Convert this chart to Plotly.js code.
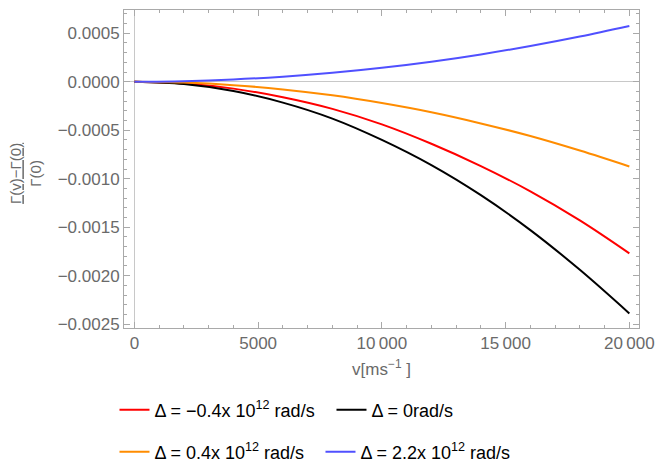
<!DOCTYPE html>
<html>
<head>
<meta charset="utf-8">
<script src="https://cdn.plot.ly/plotly-3.0.1.min.js"></script>
<style>html,body{margin:0;padding:0;background:#fff;}#chart{width:658px;height:465px;}</style>
</head>
<body>
<div id="chart"></div>
<script>
var velocity = [0, 2000, 4000, 6000, 8000, 10000, 12000, 14000, 16000, 18000, 20000];
var deltaNeg04 = [0, -0.000018, -0.000071, -0.00016, -0.00028, -0.00044, -0.00064, -0.00087, -0.00113, -0.00143, -0.00177];
var deltaZero = [0, -0.000024, -0.000096, -0.000215, -0.00038, -0.0006, -0.00086, -0.00117, -0.00153, -0.00194, -0.00239];
var deltaPos04 = [0, -0.000009, -0.000035, -0.000079, -0.00014, -0.00022, -0.000315, -0.00043, -0.00056, -0.00071, -0.000874];
var deltaPos22 = [0, 0.000006, 0.000023, 0.000052, 0.000092, 0.000144, 0.000207, 0.000282, 0.000369, 0.000467, 0.000576];

var xTickVals = [0, 5000, 10000, 15000, 20000];
var xTickText = ['0', '5000', '10\u2009000', '15\u2009000', '20\u2009000'];
var yTickVals = [0.0005, 0, -0.0005, -0.001, -0.0015, -0.002, -0.0025];
var yTickText = ['0.0005', '0.0000', '\u22120.0005', '\u22120.0010', '\u22120.0015', '\u22120.0020', '\u22120.0025'];

var names = [
  '\u0394 = \u22120.4x 10<sup>12</sup> rad/s',
  '\u0394 = 0rad/s',
  '\u0394 = 0.4x 10<sup>12</sup> rad/s',
  '\u0394 = 2.2x 10<sup>12</sup> rad/s'
];

function tr(y, name, color, legend) {
  return {x: velocity, y: y, name: name, type: 'scatter', mode: 'lines',
    line: {color: color, width: 2, shape: 'spline'}, legend: legend};
}
var data = [
  tr(deltaNeg04, names[0], '#ff0000', 'legend'),
  tr(deltaZero, names[1], '#000000', 'legend'),
  tr(deltaPos04, names[2], '#ff8c00', 'legend2'),
  tr(deltaPos22, names[3], '#5050ff', 'legend2')
];

var frame = '#a9a9a9';
var fam = 'Liberation Sans, Arial, sans-serif';
var tickFont = {family: fam, size: 17, color: '#6a6a6a'};
var layout = {
  width: 658, height: 465,
  margin: {l: 124, r: 19, t: 10, b: 137, autoexpand: false},
  paper_bgcolor: '#fff', plot_bgcolor: '#fff',
  showlegend: true,
  xaxis: {
    range: [-420, 20390], showgrid: false, zeroline: true, zerolinecolor: '#c8c8c8', zerolinewidth: 1,
    showline: true, linecolor: frame, linewidth: 1, mirror: 'allticks',
    ticks: 'inside', ticklen: 6, tickcolor: frame, tickvals: xTickVals, ticktext: xTickText,
    minor: {dtick: 1000, ticklen: 3, tickcolor: frame, ticks: 'inside'},
    tickfont: tickFont, automargin: false,
    title: {text: 'v[ms<sup>\u22121</sup> ]', font: {family: fam, size: 17, color: '#6a6a6a'}, standoff: 10}
  },
  yaxis: {
    range: [-0.00254, 0.00074], showgrid: false, zeroline: true, zerolinecolor: '#c8c8c8', zerolinewidth: 1,
    showline: true, linecolor: frame, linewidth: 1, mirror: 'allticks',
    ticks: 'inside', ticklen: 6, tickcolor: frame, tickvals: yTickVals, ticktext: yTickText,
    minor: {dtick: 0.0001, ticklen: 3, tickcolor: frame, ticks: 'inside'},
    tickfont: tickFont, automargin: false
  },
  legend: {
    orientation: 'h', xref: 'container', yref: 'container', x: 0.174, y: 0.118,
    xanchor: 'left', yanchor: 'middle', entrywidth: 172, entrywidthmode: 'pixels',
    font: {family: fam, size: 18, color: '#000'},
    bgcolor: 'rgba(0,0,0,0)', tracegroupgap: 0
  },
  legend2: {
    orientation: 'h', xref: 'container', yref: 'container', x: 0.174, y: 0.028,
    xanchor: 'left', yanchor: 'middle', entrywidth: 161, entrywidthmode: 'pixels',
    font: {family: fam, size: 18, color: '#000'},
    bgcolor: 'rgba(0,0,0,0)', tracegroupgap: 0
  },
  annotations: [{
    text: '<u>\u0393(v)\u2212\u0393(0)</u><br>\u0393(0)',
    xref: 'paper', yref: 'paper', x: -0.19, y: 0.485, xanchor: 'center', yanchor: 'middle',
    textangle: -90, showarrow: false,
    font: {family: fam, size: 15, color: '#6a6a6a'}
  }]
};
Plotly.newPlot('chart', data, layout, {displayModeBar: false});
</script>
</body>
</html>
